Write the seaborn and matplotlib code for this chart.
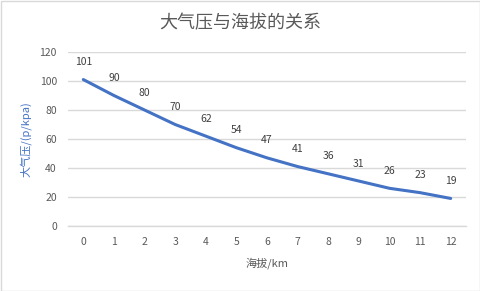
import matplotlib
matplotlib.use("Agg")
import matplotlib.pyplot as plt
import seaborn as sns
import pandas as pd

altitude = [0, 1, 2, 3, 4, 5, 6, 7, 8, 9, 10, 11, 12]
pressure = [101, 90, 80, 70, 62, 54, 47, 41, 36, 31, 26, 23, 19]
y_ticks = [0, 20, 40, 60, 80, 100, 120]
title = "大气压与海拔的关系"
x_label = "海拔/km"
y_label = "大气压/(p/kpa)"

sns.set_theme(style="white")
plt.rcParams['font.family'] = ['Noto Sans CJK SC', 'DejaVu Sans']

df = pd.DataFrame({"alt": altitude, "p": pressure})

fig = plt.figure(figsize=(4.81, 2.91), dpi=100)
fig.patch.set_facecolor("white")
ax = fig.add_axes([68/481, (291-226)/291, (466-68)/481, (226-52)/291])

sns.lineplot(data=df, x="alt", y="p", ax=ax, color="#4472C4", linewidth=2.2)

for a, p in zip(altitude, pressure):
    ax.annotate(str(p), (a, p), xytext=(0, 9), textcoords="offset points",
                ha="center", va="bottom", fontsize=7.5, color="#404040")

ax.set_xlim(-0.5, 12.5)
ax.set_ylim(0, 120)
ax.set_yticks(y_ticks)
ax.set_xticks(altitude)
ax.set_xticklabels([str(a) for a in altitude])
ax.tick_params(axis="both", length=0, labelsize=7.5, colors="#595959", pad=8)
ax.yaxis.grid(True, color="#D9D9D9", linewidth=1)
ax.xaxis.grid(False)
for s in ["top", "right", "left"]:
    ax.spines[s].set_visible(False)
ax.spines["bottom"].set_color("#D9D9D9")
ax.spines["bottom"].set_linewidth(1)

ax.set_xlabel(x_label, fontsize=8, color="#595959", labelpad=7)
ax.set_ylabel(y_label, fontsize=8, color="#4472C4", labelpad=6)

fig.text(240/481, 1 - 23/291, title, ha="center", va="center", fontsize=13, color="#595959")

border = plt.Rectangle((0.5/481, 0.5/291), 1 - 1.5/481, 1 - 1.5/291, transform=fig.transFigure,
                       fill=False, edgecolor="#D9D9D9", linewidth=1)
fig.patches.append(border)

fig.savefig("out.png", dpi=100)
